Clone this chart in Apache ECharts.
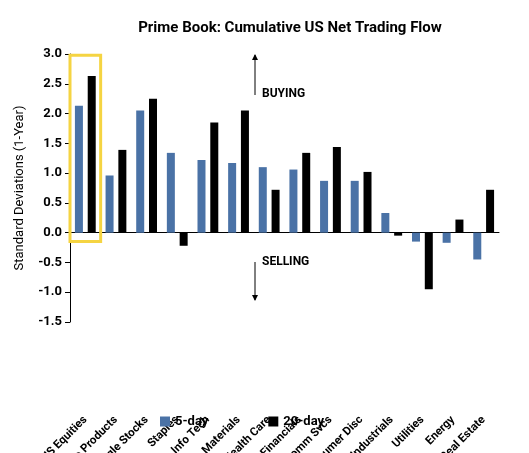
<!DOCTYPE html>
<html>
<head>
<meta charset="UTF-8">
<script src="https://cdn.jsdelivr.net/npm/echarts@6/dist/echarts.min.js"></script>
<style>html,body{margin:0;background:#fff}#c{width:529px;height:453px}</style>
</head>
<body>
<div id="c"></div>
<script>
var categories = ["All US Equities", "Macro Products", "Single Stocks", "Staples", "Info Tech", "Materials", "Health Care", "Financials", "Comm Svcs", "Consumer Disc", "Industrials", "Utilities", "Energy", "Real Estate"];
var fiveDay = [2.13, 0.96, 2.05, 1.34, 1.22, 1.17, 1.10, 1.06, 0.87, 0.87, 0.33, -0.15, -0.17, -0.45];
var twentyDay = [2.63, 1.39, 2.25, -0.22, 1.85, 2.05, 0.72, 1.34, 1.44, 1.02, -0.05, -0.95, 0.22, 0.72];

var chart = echarts.init(document.getElementById("c"));
var font = "Roboto";
chart.setOption({
    animation: false,
    textStyle: {fontFamily: font},
    title: {
        text: "Prime Book: Cumulative US Net Trading Flow",
        left: 285, top: 16, textAlign: "center",
        textStyle: {fontSize: 15, fontWeight: "bold", color: "#000", fontFamily: font}
    },
    grid: {left: 70, right: 30, top: 54, bottom: 131, containLabel: false, outerBoundsMode: "none"},
    legend: {
        bottom: 20, left: 155, itemGap: 60, itemWidth: 10, itemHeight: 10,
        textStyle: {fontSize: 13, fontWeight: "bold", color: "#000"},
        data: [{name: "5-day", icon: "rect"}, {name: "20-day", icon: "rect"}]
    },
    xAxis: {
        type: "category", data: categories,
        axisTick: {show: false},
        axisLine: {lineStyle: {color: "#000"}},
        axisLabel: {rotate: 45, interval: 0, color: "#000", fontWeight: "bold", fontSize: 11.5, margin: 96}
    },
    yAxis: {
        type: "value", min: -1.5, max: 3, interval: 0.5,
        name: "Standard Deviations (1-Year)", nameLocation: "middle", nameGap: 44,
        nameTextStyle: {fontSize: 13, color: "#000"},
        splitLine: {show: false},
        axisLine: {show: true, lineStyle: {color: "#000"}},
        axisTick: {show: true},
        axisLabel: {color: "#000", fontWeight: "bold", fontSize: 13, formatter: function (v) { return v.toFixed(1); }}
    },
    series: [
        {
            name: "5-day", type: "bar", data: fiveDay, barWidth: 8, barGap: "60%",
            itemStyle: {color: "#4a72a6"},
            markArea: {
                silent: true,
                itemStyle: {color: "rgba(0,0,0,0)", borderColor: "#f5d442", borderWidth: 3},
                data: [[{xAxis: "All US Equities", yAxis: -0.15}, {xAxis: "All US Equities", yAxis: 2.98}]]
            }
        },
        {name: "20-day", type: "bar", data: twentyDay, barWidth: 8, itemStyle: {color: "#000"}}
    ],
    graphic: [
        {type: "line", shape: {x1: 255, y1: 95, x2: 255, y2: 55}, style: {stroke: "#000", lineWidth: 1}},
        {type: "polygon", shape: {points: [[252, 60], [258, 60], [255, 54]]}, style: {fill: "#000"}},
        {type: "text", left: 262, top: 88, style: {text: "BUYING", font: "bold 12px Roboto", fill: "#000"}},
        {type: "text", left: 262, top: 256, style: {text: "SELLING", font: "bold 12px Roboto", fill: "#000"}},
        {type: "line", shape: {x1: 255, y1: 262, x2: 255, y2: 300}, style: {stroke: "#000", lineWidth: 1}},
        {type: "polygon", shape: {points: [[252, 295], [258, 295], [255, 301]]}, style: {fill: "#000"}}
    ]
});
</script>
</body>
</html>
